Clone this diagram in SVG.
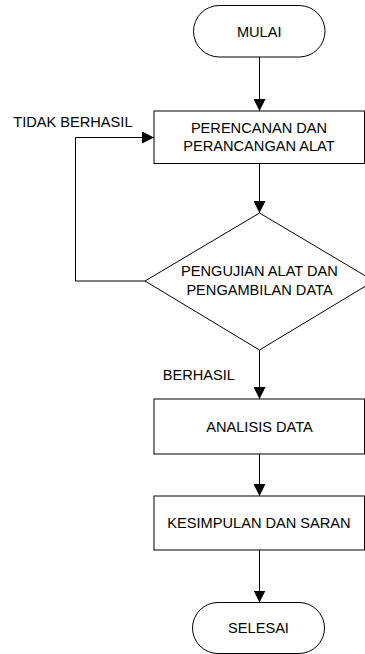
<svg xmlns="http://www.w3.org/2000/svg" width="365" height="654" viewBox="0 0 365 654">
<style>
.s{fill:#fff;stroke:#000;stroke-width:1}
.t{font-family:"Liberation Sans",Arial,sans-serif;font-size:14.6px;fill:#000}
.m{text-anchor:middle}
.c{fill:none;stroke:#000;stroke-width:1}
</style>
<defs>
<marker id="ah" viewBox="0 0 12 12" refX="12" refY="6" markerWidth="12" markerHeight="12" markerUnits="userSpaceOnUse" orient="auto">
<path d="M0,0 L12,6 L0,12 Z" fill="#000"/>
</marker>
</defs>
<rect width="365" height="654" fill="#fff"/>
<g id="connectors">
<line class="c" x1="259.5" y1="57" x2="259.5" y2="111" marker-end="url(#ah)"/>
<line class="c" x1="259.5" y1="163.5" x2="259.5" y2="213" marker-end="url(#ah)"/>
<polyline class="c" points="145,281 75.5,281 75.5,137.5 154,137.5" marker-end="url(#ah)"/>
<line class="c" x1="259.5" y1="350" x2="259.5" y2="399" marker-end="url(#ah)"/>
<line class="c" x1="259.5" y1="454" x2="259.5" y2="496" marker-end="url(#ah)"/>
<line class="c" x1="259.5" y1="550" x2="259.5" y2="602.5" marker-end="url(#ah)"/>
<text class="t" x="13.3" y="127.3">TIDAK BERHASIL</text>
<text class="t" x="162.7" y="380">BERHASIL</text>
</g>
<g id="mulai">
<rect class="s" x="193.5" y="5.5" width="131.5" height="51.5" rx="25.75" ry="25.75"/>
<text class="t m" x="259.2" y="36.5">MULAI</text>
</g>
<g id="perencanaan">
<rect class="s" x="154" y="111" width="210.5" height="52.5"/>
<text class="t m" x="259" y="133.3">PERENCANAN DAN</text>
<text class="t m" x="259" y="150.8">PERANCANGAN ALAT</text>
</g>
<g id="pengujian">
<polygon class="s" points="259.5,213 374,281 259.5,350 145,281"/>
<text class="t m" x="259.5" y="276">PENGUJIAN ALAT DAN</text>
<text class="t m" x="259.5" y="295">PENGAMBILAN DATA</text>
</g>
<g id="analisis">
<rect class="s" x="154" y="399" width="210.5" height="55"/>
<text class="t m" x="259.5" y="432.3">ANALISIS DATA</text>
</g>
<g id="kesimpulan">
<rect class="s" x="154" y="496" width="210.5" height="54"/>
<text class="t m" x="259" y="527.7">KESIMPULAN DAN SARAN</text>
</g>
<g id="selesai">
<rect class="s" x="192.5" y="602.5" width="132" height="51" rx="25.5" ry="25.5"/>
<text class="t m" x="258.5" y="632.5">SELESAI</text>
</g>
</svg>
